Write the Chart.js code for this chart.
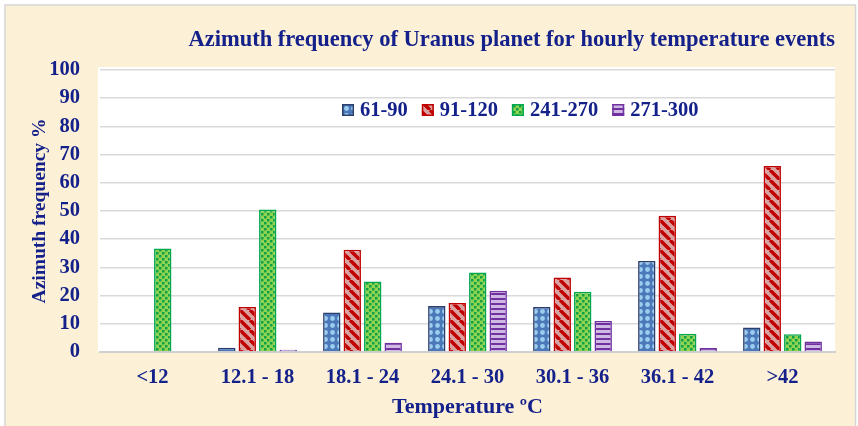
<!DOCTYPE html>
<html>
<head>
<meta charset="utf-8">
<script src="https://cdn.jsdelivr.net/npm/chart.js@4/dist/chart.umd.min.js"></script>
<style>
  html, body { margin: 0; padding: 0; background: #ffffff; }
  #wrap { width: 858px; height: 426px; position: relative; }
</style>
</head>
<body>
<div id="wrap"><canvas id="c" width="858" height="426"></canvas></div>
<script>
// ---- data ----
const categories = ['<12', '12.1 - 18', '18.1 - 24', '24.1 - 30', '30.1 - 36', '36.1 - 42', '>42'];
const seriesLabels = ['61-90', '91-120', '241-270', '271-300'];
const az61_90   = [0, 1.5, 14, 16.3, 16, 32.3, 8.7];
const az91_120  = [0, 16, 36.3, 17.4, 26.4, 48.3, 66];
const az241_270 = [36.7, 50.5, 25, 28.2, 21.4, 6.5, 6.3];
const az271_300 = [0, 0.8, 3.3, 21.7, 11, 1.4, 3.7];
const yTicks = [0, 10, 20, 30, 40, 50, 60, 70, 80, 90, 100];

const NAVY = '#15218A';
const FONT = '"Liberation Serif", "Times New Roman", serif';

// ---- fill patterns ----
function makePattern(w, h, draw) {
  const cv = document.createElement('canvas');
  cv.width = w; cv.height = h;
  const g = cv.getContext('2d');
  draw(g, w, h);
  return document.getElementById('c').getContext('2d').createPattern(cv, 'repeat');
}
const blueFill = makePattern(7, 7, (g) => {
  g.fillStyle = '#4A78B8'; g.fillRect(0, 0, 7, 7);
  g.fillStyle = '#9CCDEE';
  g.beginPath(); g.arc(3.5, 3.5, 2.4, 0, Math.PI * 2); g.fill();
});
const redFill = makePattern(10, 10, (g) => {
  g.fillStyle = '#DBA0A0'; g.fillRect(0, 0, 10, 10);
  g.strokeStyle = '#C00000'; g.lineWidth = 3.4;
  [-10, 0, 10].forEach(o => { g.beginPath(); g.moveTo(o, 0); g.lineTo(o + 10, 10); g.stroke(); });
});
const greenFill = makePattern(6, 6, (g) => {
  g.fillStyle = '#8FD450'; g.fillRect(0, 0, 6, 6);
  g.fillStyle = '#10A046';
  g.fillRect(0, 0, 2.5, 2.5); g.fillRect(3, 3, 2.5, 2.5);
});
const purpleFill = makePattern(6, 5, (g) => {
  g.fillStyle = '#CDB9E2'; g.fillRect(0, 0, 6, 5);
  g.fillStyle = '#7030A0'; g.fillRect(0, 3, 6, 2);
});

// ---- plugins ----
const background = {
  id: 'background',
  beforeDraw(chart) {
    const ctx = chart.ctx;
    const ca = chart.chartArea;
    ctx.save();
    ctx.fillStyle = '#ffffff';
    ctx.fillRect(0, 0, chart.width, chart.height);
    ctx.fillStyle = '#FCF1D7';
    ctx.fillRect(5, 5, chart.width - 8, chart.height - 5);
    ctx.strokeStyle = '#D6D6D6'; ctx.lineWidth = 1.5;
    ctx.beginPath();
    ctx.moveTo(5, chart.height); ctx.lineTo(5, 5); ctx.lineTo(chart.width - 2.5, 5); ctx.lineTo(chart.width - 2.5, chart.height);
    ctx.stroke();
    ctx.fillStyle = '#ffffff';
    ctx.fillRect(ca.left - 2, ca.top - 3, ca.right - ca.left + 2, ca.bottom - ca.top + 3);
    ctx.restore();
  }
};

const insideLegend = {
  id: 'insideLegend',
  afterDatasetsDraw(chart) {
    const ctx = chart.ctx;
    ctx.save();
    ctx.font = 'bold 20.5px ' + FONT;
    ctx.textBaseline = 'middle';
    let x = 342; const y = 110;
    chart.data.datasets.forEach(ds => {
      ctx.fillStyle = ds.backgroundColor;
      ctx.fillRect(x, y - 6, 12, 12);
      ctx.strokeStyle = ds.borderColor; ctx.lineWidth = 1.5;
      ctx.strokeRect(x + 0.75, y - 5.25, 10.5, 10.5);
      x += 12 + 6;
      ctx.fillStyle = NAVY;
      ctx.fillText(ds.label, x, y + 1);
      x += ctx.measureText(ds.label).width + 14;
    });
    ctx.restore();
  }
};

const ds = (label, data, fill, border) => ({
  label, data, backgroundColor: fill, borderColor: border, borderWidth: 1.6,
  categoryPercentage: 0.78, barPercentage: 0.85
});

new Chart(document.getElementById('c'), {
  type: 'bar',
  data: {
    labels: categories,
    datasets: [
      ds(seriesLabels[0], az61_90, blueFill, '#2C3E6E'),
      ds(seriesLabels[1], az91_120, redFill, '#C00000'),
      ds(seriesLabels[2], az241_270, greenFill, '#00A84F'),
      ds(seriesLabels[3], az271_300, purpleFill, '#7030A0')
    ]
  },
  options: {
    responsive: false,
    animation: false,
    layout: { padding: { left: 0, right: 23, top: 0, bottom: 0 } },
    plugins: {
      legend: { display: false },
      tooltip: { enabled: false },
      title: {
        display: true,
        text: 'Azimuth frequency of Uranus planet for hourly temperature events',
        color: NAVY,
        font: { family: FONT, size: 22.5, weight: 'bold', lineHeight: 1.2 },
        align: 'end',
        fullSize: false,
        padding: { top: 27, bottom: 16 }
      }
    },
    scales: {
      x: {
        grid: { display: false, drawTicks: false },
        border: { display: true, color: '#D0D0D0', width: 2 },
        ticks: { color: NAVY, font: { family: FONT, size: 20.5, weight: 'bold' }, padding: 13, maxRotation: 0, autoSkip: false },
        title: { display: true, text: 'Temperature ºC', color: NAVY,
                 font: { family: FONT, size: 22, weight: 'bold', lineHeight: 1.2 }, padding: { top: 0, bottom: 5 } },
        afterFit(scale) { scale.height = 74; }
      },
      y: {
        min: 0, max: 100,
        afterBuildTicks(scale) { scale.ticks = yTicks.map(v => ({ value: v })); },
        grid: { color: '#D9D9D9', lineWidth: 1.5, drawTicks: false },
        border: { display: false },
        ticks: { color: NAVY, font: { family: FONT, size: 20.5, weight: 'bold' }, padding: 20 },
        title: { display: true, text: 'Azimuth frequency %', color: NAVY,
                 font: { family: FONT, size: 19.5, weight: 'bold', lineHeight: 1.2 }, padding: { top: 28, bottom: 0 } },
        afterFit(scale) { scale.width = 100; }
      }
    }
  },
  plugins: [background, insideLegend]
});
</script>
</body>
</html>
